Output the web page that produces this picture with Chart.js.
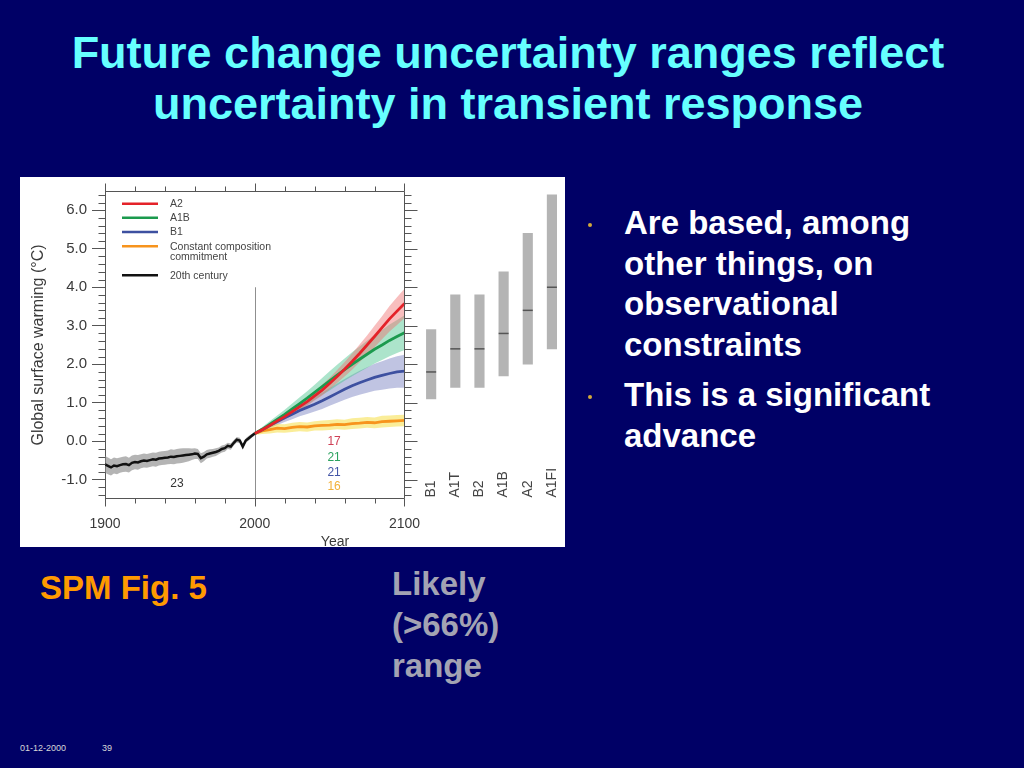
<!DOCTYPE html>
<html>
<head>
<meta charset="utf-8">
<script src="https://cdn.jsdelivr.net/npm/chart.js@4"></script>
<style>
html,body{margin:0;padding:0;}
body{width:1024px;height:768px;background:#000066;position:relative;overflow:hidden;font-family:'Liberation Sans',Arial,sans-serif;}
.title{position:absolute;left:0;top:27px;width:1016px;text-align:center;color:#66ffff;font-weight:bold;font-size:45px;line-height:51px;}
#panel{position:absolute;left:20px;top:177px;width:545px;height:370px;background:#fff;}
#panel canvas{display:block;}
.bul{position:absolute;left:624px;color:#fff;font-weight:bold;font-size:33px;line-height:40.6px;white-space:nowrap;}
.dot{position:absolute;left:588px;width:4px;height:4px;border-radius:50%;background:#d2a93a;}
.spm{position:absolute;left:40px;top:568px;color:#ff9900;font-weight:bold;font-size:33px;line-height:40.6px;}
.likely{position:absolute;left:392px;top:563px;color:#a3a3b3;font-weight:bold;font-size:33px;line-height:41px;}
.foot{position:absolute;top:742px;color:#d8d8d8;font-size:9px;line-height:12px;}
</style>
</head>
<body>
<div class="title">Future change uncertainty ranges reflect<br>uncertainty in transient response</div>
<div id="panel"><canvas id="c" width="545" height="370"></canvas></div>
<div class="dot" style="top:223px"></div>
<div class="bul" style="top:203px">Are based, among<br>other things, on<br>observational<br>constraints</div>
<div class="dot" style="top:395px"></div>
<div class="bul" style="top:375px">This is a significant<br>advance</div>
<div class="spm">SPM Fig. 5</div>
<div class="likely">Likely<br>(&gt;66%)<br>range</div>
<div class="foot" style="left:20px">01-12-2000</div>
<div class="foot" style="left:102px">39</div>
<script>
// ---------- data ----------
const histYears = [1900,1902,1904,1906,1908,1910,1912,1914,1916,1918,1920,1922,1924,1926,1928,1930,1932,1934,1936,1938,1940,1942,1944,1946,1948,1950,1952,1954,1956,1958,1960,1962,1964,1966,1968,1970,1972,1974,1976,1978,1980,1982,1984,1986,1988,1990,1992,1994,1996,1998,2000];
const histMean = [-0.60,-0.64,-0.68,-0.63,-0.65,-0.62,-0.60,-0.59,-0.62,-0.56,-0.54,-0.55,-0.52,-0.50,-0.51,-0.49,-0.47,-0.48,-0.45,-0.44,-0.43,-0.42,-0.40,-0.41,-0.39,-0.38,-0.37,-0.36,-0.35,-0.34,-0.32,-0.33,-0.44,-0.40,-0.34,-0.32,-0.30,-0.28,-0.25,-0.20,-0.18,-0.12,-0.14,-0.04,0.04,0.02,-0.14,0.02,0.08,0.14,0.20];
const histSpread = [0.22,0.22,0.21,0.21,0.21,0.20,0.20,0.20,0.19,0.19,0.19,0.19,0.18,0.18,0.18,0.18,0.18,0.18,0.18,0.18,0.18,0.18,0.19,0.19,0.19,0.19,0.19,0.18,0.17,0.15,0.14,0.13,0.13,0.12,0.11,0.11,0.10,0.10,0.09,0.09,0.09,0.08,0.08,0.07,0.07,0.07,0.06,0.06,0.06,0.05,0.05];

const futYears = [2000,2005,2010,2015,2020,2025,2030,2035,2040,2045,2050,2055,2060,2065,2070,2075,2080,2085,2090,2095,2100];
const a2Mean   = [0.20,0.30,0.41,0.53,0.64,0.77,0.90,1.03,1.18,1.33,1.50,1.68,1.87,2.07,2.28,2.50,2.72,2.95,3.18,3.38,3.58];
const a2Spread = [0.03,0.05,0.06,0.07,0.08,0.09,0.10,0.11,0.12,0.14,0.15,0.17,0.19,0.21,0.23,0.25,0.28,0.30,0.33,0.36,0.38];
const a1bMean   = [0.20,0.31,0.44,0.57,0.70,0.84,0.98,1.12,1.27,1.42,1.57,1.72,1.86,2.00,2.13,2.26,2.39,2.50,2.62,2.72,2.82];
const a1bSpread = [0.03,0.06,0.08,0.10,0.12,0.14,0.16,0.18,0.20,0.22,0.25,0.27,0.29,0.31,0.33,0.35,0.37,0.39,0.41,0.43,0.45];
const b1Mean   = [0.20,0.30,0.41,0.51,0.61,0.70,0.80,0.88,0.96,1.05,1.15,1.25,1.35,1.44,1.52,1.59,1.66,1.71,1.76,1.80,1.82];
const b1Spread = [0.03,0.05,0.07,0.09,0.11,0.13,0.15,0.17,0.19,0.21,0.23,0.25,0.27,0.29,0.31,0.33,0.35,0.37,0.39,0.41,0.43];
const constMean   = [0.20,0.27,0.30,0.34,0.33,0.36,0.38,0.37,0.40,0.41,0.42,0.44,0.43,0.46,0.47,0.49,0.48,0.51,0.52,0.53,0.54];
const constSpread = [0.04,0.08,0.10,0.11,0.11,0.12,0.12,0.12,0.12,0.13,0.13,0.13,0.13,0.14,0.14,0.14,0.14,0.15,0.15,0.15,0.15];

const scenarios    = ['B1','A1T','B2','A1B','A2','A1FI'];
const likelyLow    = [1.1,1.4,1.4,1.7,2.0,2.4];
const likelyHigh   = [2.9,3.8,3.8,4.4,5.4,6.4];
const bestEstimate = [1.8,2.4,2.4,2.8,3.4,4.0];

const yTickValues = [-1,0,1,2,3,4,5,6];
const xTickValues = [1900,2000,2100];
const legendLabels = ['A2','A1B','B1','Constant composition|commitment','20th century'];
const modelCounts = ['17','21','21','16'];
const histCount = '23';

// ---------- layout / styling ----------
const FONT = "'Liberation Sans', Arial, sans-serif";
Chart.defaults.font.family = FONT;
const AXIS = '#555';
const TXT = '#3a3a3a';
const C_A2 = '#e42229', C_A1B = '#1b9a4e', C_B1 = '#3d50a0', C_CONST = '#f7941d', C_HIST = '#111';
// horizontal placement of the "likely range" bars, right of the 2100 axis (in x-scale units)
const BAR_START = 2117.8, BAR_STEP = 16.13;
const barX = i => BAR_START + i * BAR_STEP;

const pts = (xs, ys) => xs.map((x, i) => ({x, y: ys[i]}));
const lower = (xs, m, s) => xs.map((x, i) => ({x, y: +(m[i] - s[i]).toFixed(3)}));
const upper = (xs, m, s) => xs.map((x, i) => ({x, y: +(m[i] + s[i]).toFixed(3)}));

function band(xs, m, s, color, order) {
  return [
    {type: 'line', data: lower(xs, m, s), borderColor: 'rgba(0,0,0,0)', borderWidth: 0, pointRadius: 0, fill: false, order},
    {type: 'line', data: upper(xs, m, s), borderColor: 'rgba(0,0,0,0)', borderWidth: 0, pointRadius: 0, fill: '-1', backgroundColor: color, order}
  ];
}
function line(xs, m, color, order, w) {
  return {type: 'line', data: pts(xs, m), borderColor: color, borderWidth: w || 2.8, pointRadius: 0, fill: false, tension: 0, order};
}

const datasets = [
  ...band(futYears, b1Mean, b1Spread, 'rgba(115,125,190,0.45)', 20),
  ...band(futYears, a1bMean, a1bSpread, 'rgba(70,195,140,0.45)', 19),
  ...band(futYears, a2Mean, a2Spread, 'rgba(240,110,110,0.45)', 18),
  ...band(futYears, constMean, constSpread, 'rgba(245,222,70,0.55)', 17),
  ...band(histYears, histMean, histSpread, 'rgba(140,140,140,0.65)', 16),
  {type: 'bar', data: scenarios.map((s, i) => ({x: barX(i), y: [likelyLow[i], likelyHigh[i]]})),
   backgroundColor: '#b4b4b4', borderWidth: 0, barThickness: 9.5, order: 15},
  line(futYears, constMean, C_CONST, 5),
  line(futYears, b1Mean, C_B1, 4),
  line(futYears, a1bMean, C_A1B, 3),
  line(futYears, a2Mean, C_A2, 2),
  line(histYears, histMean, C_HIST, 1, 2.5),
  {type: 'line', showLine: false, data: scenarios.map((s, i) => ({x: barX(i), y: bestEstimate[i]})),
   pointStyle: 'line', pointRadius: 5, pointBorderWidth: 1.5, pointBorderColor: '#555', order: 0}
];

const decor = {
  id: 'decor',
  beforeDatasetsDraw(chart) {
    const {ctx, scales: {x, y}} = chart;
    ctx.save();
    ctx.strokeStyle = '#8f8f8f'; ctx.lineWidth = 1;
    const px = Math.round(x.getPixelForValue(2000)) + 0.5;
    ctx.beginPath(); ctx.moveTo(px, y.getPixelForValue(4)); ctx.lineTo(px, y.bottom); ctx.stroke();
    ctx.restore();
  },
  afterDraw(chart) {
    const {ctx, chartArea: ca, scales: {x, y}} = chart;
    ctx.save();
    ctx.strokeStyle = AXIS; ctx.lineWidth = 1;
    const xl = Math.round(x.getPixelForValue(1900)) + 0.5;
    const xr = Math.round(x.getPixelForValue(2100)) + 0.5;
    const yt = Math.round(ca.top) + 0.5;
    const yb = Math.round(ca.bottom) - 0.5;
    ctx.beginPath();
    ctx.moveTo(xl, yt); ctx.lineTo(xr, yt);
    ctx.moveTo(xl, yb); ctx.lineTo(xr, yb);
    ctx.moveTo(xr, yt); ctx.lineTo(xr, yb);
    for (let yr = 1900; yr <= 2100; yr += 20) {
      const p = Math.round(x.getPixelForValue(yr)) + 0.5;
      const len = yr % 100 === 0 ? 8 : 5;
      ctx.moveTo(p, yb); ctx.lineTo(p, yb + len);
      ctx.moveTo(p, yt); ctx.lineTo(p, yt - len);
    }
    for (let k = -7; k <= 32; k++) {
      const v = k / 5;
      const p = Math.round(y.getPixelForValue(v)) + 0.5;
      const major = k % 5 === 0;
      if (!major) { ctx.moveTo(xl - 7, p); ctx.lineTo(xl, p); }
      ctx.moveTo(xr, p); ctx.lineTo(xr + (major ? 13 : 7), p);
    }
    ctx.stroke();

    // legend
    const colors = [C_A2, C_A1B, C_B1, C_CONST, C_HIST];
    const rows = [21.7, 35.7, 50, 64.3, 93.3];
    ctx.font = '10.5px ' + FONT; ctx.textBaseline = 'middle'; ctx.textAlign = 'left';
    legendLabels.forEach((lab, i) => {
      const ry = ca.top + rows[i] - 9;
      ctx.strokeStyle = colors[i]; ctx.lineWidth = 2.5;
      ctx.beginPath(); ctx.moveTo(ca.left + 17, ry); ctx.lineTo(ca.left + 53, ry); ctx.stroke();
      ctx.fillStyle = '#444';
      lab.split('|').forEach((t, j) => ctx.fillText(t, ca.left + 65, ry + 0.5 + j * 10));
    });

    // model counts
    ctx.font = '12px ' + FONT; ctx.textAlign = 'center';
    ctx.fillStyle = '#333';
    ctx.fillText(histCount, x.getPixelForValue(1948), y.getPixelForValue(-1.09));
    const cc = ['#cf3f55', '#2ca25f', '#4355a6', '#f2b13b'];
    const cy = [-0.01, -0.42, -0.81, -1.17];
    modelCounts.forEach((t, i) => {
      ctx.fillStyle = cc[i];
      ctx.fillText(t, x.getPixelForValue(2053), y.getPixelForValue(cy[i]));
    });

    // scenario labels (rotated)
    ctx.font = '14px ' + FONT; ctx.fillStyle = '#444'; ctx.textAlign = 'left'; ctx.textBaseline = 'middle';
    scenarios.forEach((s, i) => {
      ctx.save();
      ctx.translate(x.getPixelForValue(barX(i)), yb);
      ctx.rotate(-Math.PI / 2);
      ctx.fillText(s, 1, 0);
      ctx.restore();
    });
    ctx.restore();
  }
};

new Chart(document.getElementById('c'), {
  type: 'line',
  data: {datasets},
  plugins: [decor],
  options: {
    responsive: false,
    animation: false,
    events: [],
    layout: {autoPadding: false, padding: {top: 9, left: 0, right: 0, bottom: 0}},
    plugins: {legend: {display: false}, tooltip: {enabled: false}},
    scales: {
      x: {
        type: 'linear', position: 'bottom', min: 1900, max: 2207.18, offset: false,
        afterBuildTicks: s => { s.ticks = xTickValues.map(v => ({value: v})); },
        afterFit: s => { s.height = 48; },
        grid: {display: true, offset: false, drawOnChartArea: false, drawTicks: true, tickLength: 8, color: 'rgba(0,0,0,0)'},
        border: {display: false},
        ticks: {padding: 9, autoSkip: false, maxRotation: 0, color: TXT, font: {size: 14}, callback: v => String(v)},
        title: {display: true, text: 'Year', color: TXT, font: {size: 14}, padding: {top: 0, bottom: -4}}
      },
      y: {
        type: 'linear', position: 'left', min: -1.5, max: 6.5,
        afterBuildTicks: s => { s.ticks = yTickValues.map(v => ({value: v})); },
        afterFit: s => { s.width = 85; },
        grid: {display: true, drawOnChartArea: false, drawTicks: true, tickLength: 13, color: AXIS},
        border: {display: true, color: AXIS},
        ticks: {padding: 5, color: TXT, font: {size: 15}, callback: v => Number(v).toFixed(1)},
        title: {display: true, text: 'Global surface warming (°C)', color: TXT, font: {size: 16}, padding: {top: 9, bottom: 0}}
      }
    }
  }
});
</script>
</body>
</html>
